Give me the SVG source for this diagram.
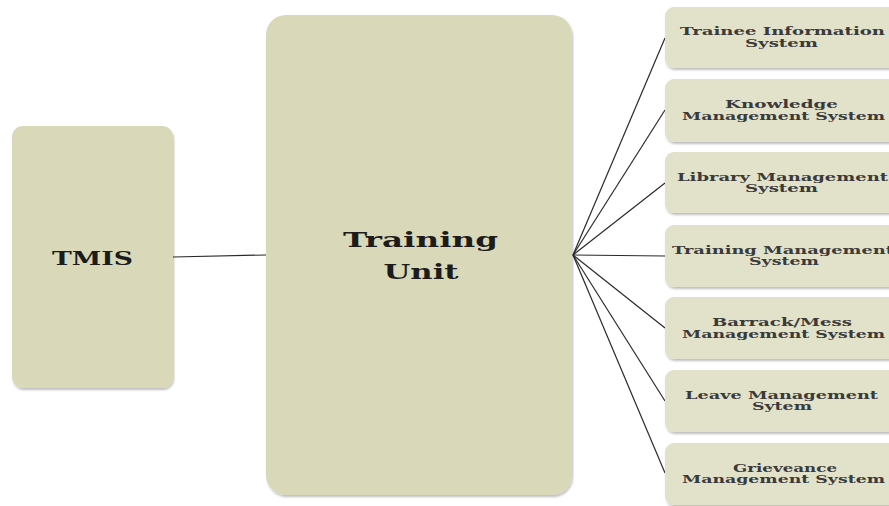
<svg xmlns="http://www.w3.org/2000/svg" width="889" height="506" viewBox="0 0 889 506">
  <defs>
    <filter id="shadow" x="-10%" y="-10%" width="130%" height="130%">
      <feDropShadow dx="1" dy="2" stdDeviation="1.2" flood-color="#000" flood-opacity="0.25"/>
    </filter>
    <style>
      .main { fill: #d9d8b9; filter: url(#shadow); }
      .sub { fill: #e2e1ca; filter: url(#shadow); }
      .title { font-family: "DejaVu Serif", "Liberation Serif", serif; font-weight: bold; fill: #1c1c1c; text-anchor: middle; }
      .label { font-family: "DejaVu Serif", "Liberation Serif", serif; font-weight: bold; font-size: 11px; fill: #3a3a3a; text-anchor: middle; }
      .link { stroke: #2a2a2a; stroke-width: 1.2; fill: none; }
    </style>
  </defs>
  <rect width="889" height="506" fill="#ffffff"/>

  <!-- connectors -->
  <g id="connectors">
    <line class="link" x1="173" y1="257" x2="266" y2="255"/>
    <line class="link" x1="573" y1="255" x2="665" y2="38"/>
    <line class="link" x1="573" y1="255" x2="665" y2="110"/>
    <line class="link" x1="573" y1="255" x2="665" y2="183"/>
    <line class="link" x1="573" y1="255" x2="665" y2="256"/>
    <line class="link" x1="573" y1="255" x2="665" y2="328"/>
    <line class="link" x1="573" y1="255" x2="665" y2="401"/>
    <line class="link" x1="573" y1="255" x2="665" y2="473"/>
  </g>

  <g id="tmis">
    <rect class="main" x="12" y="126" width="161" height="262" rx="11"/>
    <text class="title" x="92.5" y="265" font-size="19" textLength="81" lengthAdjust="spacingAndGlyphs">TMIS</text>
  </g>

  <g id="training-unit">
    <rect class="main" x="266" y="15" width="306" height="480" rx="20"/>
    <text class="title" x="420.5" y="247" font-size="21" textLength="155" lengthAdjust="spacingAndGlyphs">Training</text>
    <text class="title" x="421" y="279" font-size="21" textLength="75" lengthAdjust="spacingAndGlyphs">Unit</text>
  </g>

  <g id="trainee-information">
    <rect class="sub" x="665" y="7" width="234" height="61" rx="9"/>
    <text class="label" x="782.5" y="35" textLength="205" lengthAdjust="spacingAndGlyphs">Trainee Information</text>
    <text class="label" x="781.5" y="47" textLength="73" lengthAdjust="spacingAndGlyphs">System</text>
  </g>

  <g id="knowledge-management">
    <rect class="sub" x="665" y="79" width="234" height="63" rx="9"/>
    <text class="label" x="781.5" y="108" textLength="113" lengthAdjust="spacingAndGlyphs">Knowledge</text>
    <text class="label" x="783.5" y="119.5" textLength="203" lengthAdjust="spacingAndGlyphs">Management System</text>
  </g>

  <g id="library-management">
    <rect class="sub" x="665" y="152" width="234" height="61" rx="9"/>
    <text class="label" x="782.5" y="180.5" textLength="211" lengthAdjust="spacingAndGlyphs">Library Management</text>
    <text class="label" x="781.5" y="192" textLength="73" lengthAdjust="spacingAndGlyphs">System</text>
  </g>

  <g id="training-management">
    <rect class="sub" x="665" y="225" width="234" height="62" rx="9"/>
    <text class="label" x="783" y="253.5" textLength="222" lengthAdjust="spacingAndGlyphs">Training Management</text>
    <text class="label" x="784" y="265" textLength="70" lengthAdjust="spacingAndGlyphs">System</text>
  </g>

  <g id="barrack-mess-management">
    <rect class="sub" x="665" y="297" width="234" height="62" rx="9"/>
    <text class="label" x="782" y="326" textLength="140" lengthAdjust="spacingAndGlyphs">Barrack/Mess</text>
    <text class="label" x="783.5" y="337.7" textLength="203" lengthAdjust="spacingAndGlyphs">Management System</text>
  </g>

  <g id="leave-management">
    <rect class="sub" x="665" y="370" width="234" height="62" rx="9"/>
    <text class="label" x="781.5" y="398.5" textLength="193" lengthAdjust="spacingAndGlyphs">Leave Management</text>
    <text class="label" x="782" y="410" textLength="60" lengthAdjust="spacingAndGlyphs">Sytem</text>
  </g>

  <g id="grieveance-management">
    <rect class="sub" x="665" y="443" width="234" height="62" rx="9"/>
    <text class="label" x="785" y="471.7" textLength="104" lengthAdjust="spacingAndGlyphs">Grieveance</text>
    <text class="label" x="783.5" y="483.3" textLength="203" lengthAdjust="spacingAndGlyphs">Management System</text>
  </g>
</svg>
